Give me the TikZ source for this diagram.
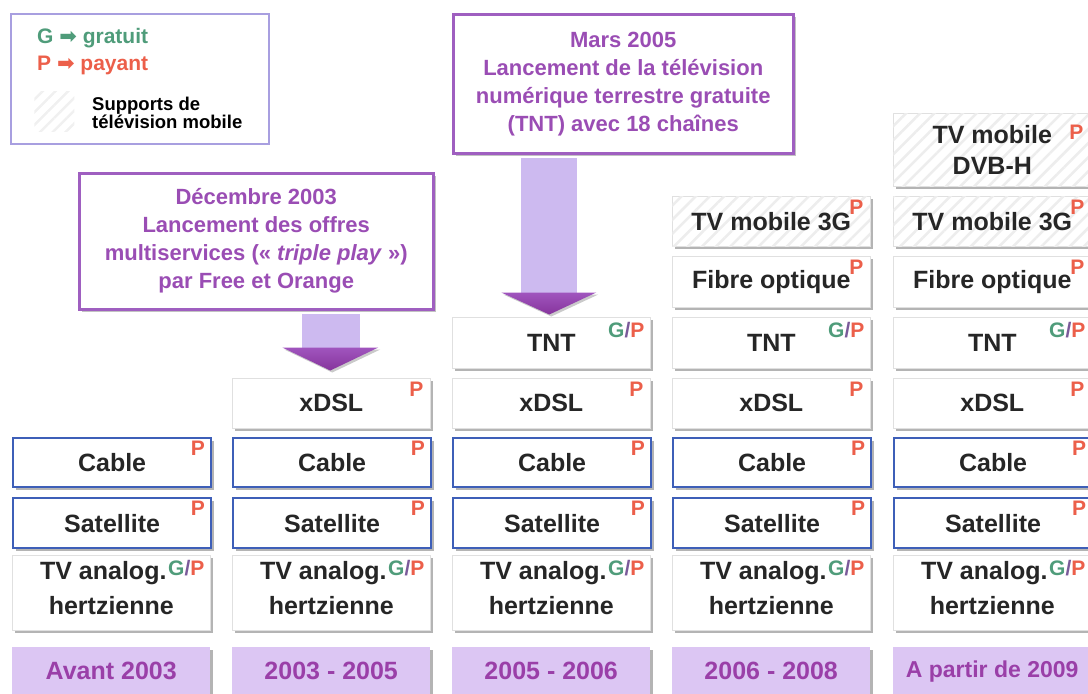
\documentclass[tikz,border=0pt]{standalone}
\usepackage{fontspec}
\setmainfont{Liberation Sans}
\newfontfamily\symfont{DejaVu Sans}
\usetikzlibrary{shadows,patterns.meta,calc}
\definecolor{txt}{HTML}{262626}
\definecolor{gc}{HTML}{4F9C7A}
\definecolor{pc}{HTML}{EC5F4A}
\definecolor{slc}{HTML}{7A5A9A}
\definecolor{bluec}{HTML}{3E5FB8}
\definecolor{callc}{HTML}{9F5FC0}
\definecolor{calltxt}{HTML}{9A4DB4}
\definecolor{lav}{HTML}{DCC6F3}
\definecolor{yeartxt}{HTML}{9A3FA8}
\definecolor{shaftc}{HTML}{CDBAF0}
\definecolor{headtop}{HTML}{A055BE}
\definecolor{headbot}{HTML}{86349C}
\definecolor{legc}{HTML}{A89FE0}
\newcommand\supP{\textcolor{pc}{P}}
\newcommand\supGP{\textcolor{gc}{G}\textcolor{slc}{/}\textcolor{pc}{P}}
\newcommand\tvaText{TV analog.\hspace{16pt}\mbox{}\\hertzienne}
\tikzset{
  shad/.style={drop shadow={shadow xshift=2.5pt, shadow yshift=-2.5pt, opacity=.45, fill=black!65}},
  base/.style={rectangle, inner sep=0pt, minimum width=198pt, align=center, text=txt,
    font=\fontsize{25}{31}\selectfont\bfseries, anchor=north west},
  plainbox/.style={base, fill=white, draw=black!12, line width=0.6pt, shad},
  bluebox/.style={base, fill=white, draw=bluec, line width=2.2pt, shad},
  mobbox/.style={plainbox, postaction={pattern={Lines[angle=45,distance=10pt,line width=2.5pt]}, pattern color=black!7}},
  tvabox/.style={plainbox, minimum height=75pt, text depth=10pt, font=\fontsize{25}{35}\selectfont\bfseries},
  yearbox/.style={base, fill=lav, text=yeartxt, minimum height=48pt, shad},
  supl/.style={inner sep=0pt, anchor=north east, font=\fontsize{21}{21}\selectfont\bfseries},
  callout/.style={rectangle, inner sep=0pt, anchor=north west, align=center, fill=white, draw=callc,
    line width=2.5pt, text=calltxt, font=\fontsize{22}{28}\selectfont\bfseries,
    drop shadow={shadow xshift=3pt, shadow yshift=-3pt, opacity=.4, fill=black!60}},
  shaft/.style={fill=shaftc},
  head/.style={top color=headtop, bottom color=headbot, draw=none,
    drop shadow={shadow xshift=2pt, shadow yshift=-2pt, opacity=.35, fill=black!60}},
}
\begin{document}
\begin{tikzpicture}[x=1pt,y=-1pt]
\useasboundingbox (0,0) rectangle (1088,694);
\clip (0,0) rectangle (1088,694);

% legend
\node[draw=legc, line width=1.5pt, minimum width=258pt, minimum height=130pt, anchor=north west, inner sep=0pt] (leg) at (10,13) {};
\node[anchor=base west, inner sep=0pt, text=gc, font=\fontsize{21}{21}\selectfont\bfseries] (lg) at (37,43) {G {\symfont\bfseries ➡} gratuit};
\node[anchor=base west, inner sep=0pt, text=pc, font=\fontsize{21}{21}\selectfont\bfseries] (lp) at (37,70) {P {\symfont\bfseries ➡} payant};
\node[anchor=north west, inner sep=0pt, minimum width=40pt, minimum height=40pt,
  pattern={Lines[angle=45,distance=9pt,line width=2.5pt]}, pattern color=black!6] (lhatch) at (33,90) {};
\node[anchor=north west, inner sep=0pt, align=left, text=black, font=\fontsize{18.5}{18.5}\selectfont\bfseries] (lm) at (92,96.5) {Supports de\\télévision mobile};

% callouts
\node[callout, minimum width=354pt, minimum height=136pt] (c1) at (78,172)
  {Décembre 2003\\Lancement des offres\\multiservices («~\textit{triple play}~»)\\par Free et Orange};
\node[callout, minimum width=340pt, minimum height=139pt] (c2) at (452,13)
  {Mars 2005\\Lancement de la télévision\\numérique terrestre gratuite\\(TNT) avec 18 chaînes};

% column 1
\node[bluebox, minimum height=49pt] (cab1) at (12,437) {Cable};
\node[bluebox, minimum height=50pt] (sat1) at (12,497) {Satellite};
\node[tvabox] (tva1) at (12,555) {\tvaText};
\node[yearbox] (y1) at (12,647) {Avant 2003};

% column 2
\node[plainbox, minimum height=50pt] (x2) at (232,378) {xDSL};
\node[bluebox, minimum height=49pt] (cab2) at (232,437) {Cable};
\node[bluebox, minimum height=50pt] (sat2) at (232,497) {Satellite};
\node[tvabox] (tva2) at (232,555) {\tvaText};
\node[yearbox] (y2) at (232,647) {2003 - 2005};

% column 3
\node[plainbox, minimum height=51pt] (t3) at (452,317) {TNT};
\node[plainbox, minimum height=50pt] (x3) at (452,378) {xDSL};
\node[bluebox, minimum height=49pt] (cab3) at (452,437) {Cable};
\node[bluebox, minimum height=50pt] (sat3) at (452,497) {Satellite};
\node[tvabox] (tva3) at (452,555) {\tvaText};
\node[yearbox] (y3) at (452,647) {2005 - 2006};

% column 4
\node[mobbox, minimum height=50pt] (m4) at (672,196) {TV mobile 3G};
\node[plainbox, minimum height=51pt] (f4) at (672,256) {Fibre optique};
\node[plainbox, minimum height=51pt] (t4) at (672,317) {TNT};
\node[plainbox, minimum height=50pt] (x4) at (672,378) {xDSL};
\node[bluebox, minimum height=49pt] (cab4) at (672,437) {Cable};
\node[bluebox, minimum height=50pt] (sat4) at (672,497) {Satellite};
\node[tvabox] (tva4) at (672,555) {\tvaText};
\node[yearbox] (y4) at (672,647) {2006 - 2008};

% column 5
\node[mobbox, minimum height=73pt] (d5) at (893,113) {TV mobile\\DVB-H};
\node[mobbox, minimum height=50pt] (m5) at (893,196) {TV mobile 3G};
\node[plainbox, minimum height=51pt] (f5) at (893,256) {Fibre optique};
\node[plainbox, minimum height=51pt] (t5) at (893,317) {TNT};
\node[plainbox, minimum height=50pt] (x5) at (893,378) {xDSL};
\node[bluebox, minimum height=49pt] (cab5) at (893,437) {Cable};
\node[bluebox, minimum height=50pt] (sat5) at (893,497) {Satellite};
\node[tvabox] (tva5) at (893,555) {\tvaText};
\node[yearbox, font=\fontsize{23}{23}\selectfont\bfseries] (y5) at (893,647) {A partir de 2009};

% superscripts
\foreach \n in {cab1,sat1,x2,cab2,sat2,x3,cab3,sat3,m4,f4,x4,cab4,sat4,m5,f5,x5,cab5,sat5}
  \node[supl] (\n p) at ($(\n.north east)+(-7,4)$) {\supP};
\foreach \n in {tva1,tva2,tva3,t3,t4,tva4,t5,tva5}
  \node[supl] (\n p) at ($(\n.north east)+(-6,5)$) {\supGP};
\node[supl] (d5p) at ($(d5.north east)+(-8,12)$) {\supP};

% block arrows
\coordinate (a1s) at (x2.north |- c1.south);
\fill[shaft] ($(a1s)+(-29,3)$) rectangle ($(a1s)+(29,37)$);
\path[head] ($(a1s)+(-49,37)$) -- ($(a1s)+(47,37)$) -- ($(a1s)+(-1,60)$) -- cycle;
\coordinate (a2s) at ($(t3.north |- c2.south)+(-2,0)$);
\fill[shaft] ($(a2s)+(-28,3)$) rectangle ($(a2s)+(28,138)$);
\path[head] ($(a2s)+(-48,138)$) -- ($(a2s)+(47,138)$) -- ($(a2s)+(0,160)$) -- cycle;
\end{tikzpicture}
\end{document}
